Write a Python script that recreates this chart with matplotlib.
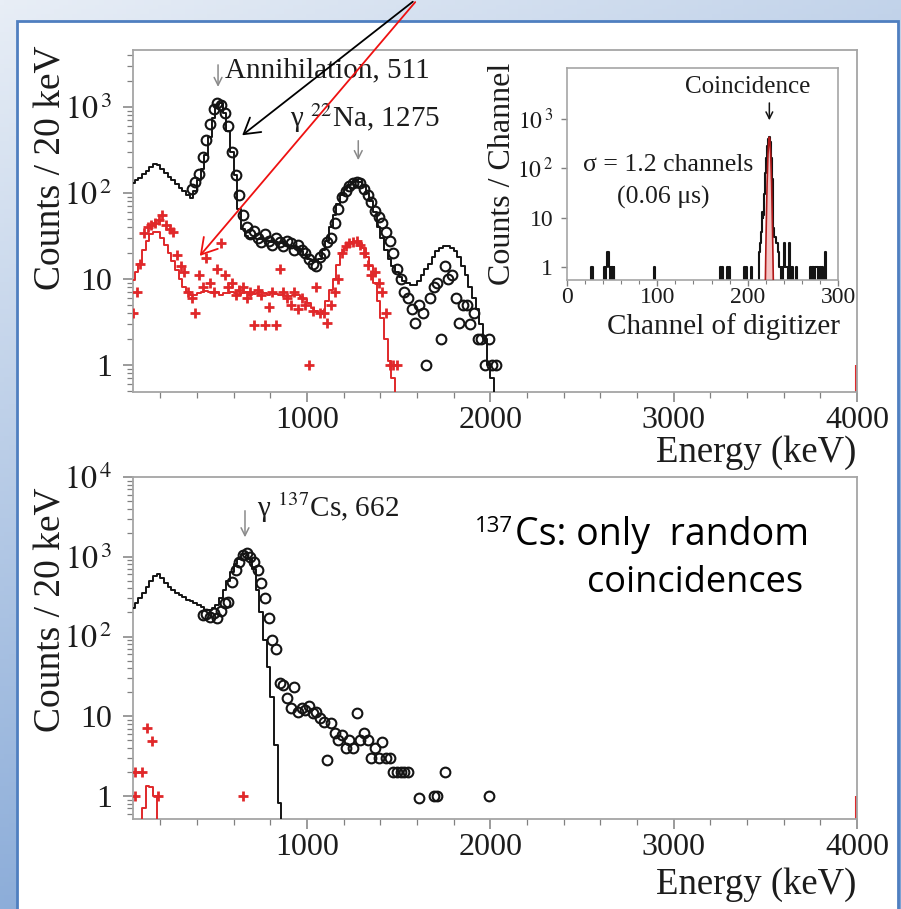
import numpy as np
import matplotlib.pyplot as plt
from matplotlib.patches import Rectangle, FancyArrowPatch
from matplotlib.ticker import MultipleLocator, FixedLocator, FixedFormatter, NullFormatter, LogLocator

plt.rcParams['font.family'] = 'Liberation Serif'
plt.rcParams['mathtext.fontset'] = 'stix'

W, H = 901, 909

# ---------------- top panel: 22Na, coincidence spectrum (keV, counts / 20 keV)
na_sim_E = [50, 70, 90, 110, 130, 150, 170, 190, 210, 230, 250, 270, 290, 310, 330, 350, 370, 390,
            410, 430, 450, 470, 490, 510, 530, 550, 570, 590, 610, 630, 650, 670, 690, 710, 730, 750,
            770, 790, 810, 830, 850, 870, 890, 910, 930, 950, 970, 990, 1010, 1030, 1050, 1070, 1090,
            1110, 1130, 1150, 1170, 1190, 1210, 1230, 1250, 1270, 1290, 1310, 1330, 1350, 1370, 1390,
            1410, 1430, 1450, 1470, 1490, 1510, 1530, 1550, 1570, 1590, 1610, 1630, 1650, 1670, 1690,
            1710, 1730, 1750, 1770, 1790, 1810, 1830, 1850, 1870, 1890, 1910, 1930, 1950, 1970, 1990,
            2010, 2030]
na_sim_v = [130, 140, 150, 165, 180, 200, 215, 210, 190, 170, 155, 140, 128, 115, 105, 95, 88, 105,
            140, 190, 275, 450, 750, 1050, 1100, 850, 520, 300, 160, 65, 38, 32, 30, 30, 29, 29,
            28, 28, 27, 27, 26, 26, 25, 24, 24, 23, 21, 19, 17, 16, 16, 17, 22,
            28, 40, 55, 75, 95, 110, 125, 135, 140, 135, 120, 100, 80, 60, 40,
            30, 22, 17, 14, 12, 10.5, 9.5, 9, 8.5, 8.5, 9.5, 11, 13, 15, 18,
            21, 23, 24, 24, 23, 21, 18, 14, 11, 8, 6, 4.5, 3, 2, 1,
            0.7, 0.01]

na_dat_E = [370, 390, 410, 430, 450, 470, 490, 510, 530, 550, 570, 590, 610, 630, 650, 670, 690, 710,
            730, 750, 770, 790, 810, 830, 850, 870, 890, 910, 930, 950, 970, 990, 1010, 1030, 1050,
            1070, 1090, 1110, 1130, 1150, 1170, 1190, 1210, 1230, 1250, 1270, 1290, 1310, 1330, 1350,
            1370, 1390, 1410, 1430, 1450, 1470, 1490, 1510, 1530, 1550, 1570, 1590, 1610, 1630, 1650,
            1670, 1690, 1710, 1730, 1750, 1770, 1790, 1810, 1830, 1850, 1870, 1890, 1910, 1930, 1950,
            1970, 1990, 2010, 2030]
na_dat_v = [110, 135, 165, 260, 410, 640, 940, 1100, 1050, 850, 600, 300, 160, 95, 55, 40, 33, 36,
            30, 27, 33, 28, 25, 30, 27, 24, 28, 26, 22, 25, 22, 20, 17, 15, 14,
            18, 20, 27, 30, 45, 65, 90, 105, 120, 130, 135, 130, 110, 95, 78,
            62, 52, 45, 35, 28, 20, 13, 10, 7, 6, 4.5, 3.1, 5, 4, 1,
            6, 8, 9, 2, 14, 10, 11, 6, 3.1, 5, 5, 3, 4, 2, 2,
            1, 2, 1, 1]

na_rnd_sim_E = [50, 70, 90, 110, 130, 150, 170, 190, 210, 230, 250, 270, 290, 310, 330, 350, 370, 390,
                410, 430, 450, 470, 490, 510, 530, 550, 570, 590, 610, 630, 650, 670, 690, 710, 730,
                750, 770, 790, 810, 830, 850, 870, 890, 910, 930, 950, 970, 990, 1010, 1030, 1050,
                1070, 1090, 1110, 1130, 1150, 1170, 1190, 1210, 1230, 1250, 1270, 1290, 1310, 1330,
                1350, 1370, 1390, 1410, 1430, 1450, 1470, 1490]
na_rnd_sim_v = [9.7, 12, 15, 22, 28, 33, 35, 35, 30, 25, 20, 16, 12.7, 10, 8.1, 7, 6.5, 6.5,
                6.8, 7, 7.2, 7, 6.8, 7, 6.6, 6.8, 6.9, 7, 6.8, 6.6, 6.9, 7, 6.5, 6.7, 6.8,
                7, 6.8, 6.5, 6.8, 6.7, 6.5, 6.6, 6.4, 6.3, 6.5, 6.6, 6.2, 5.8, 5.2, 4.6, 4.2,
                4, 4.3, 5.5, 7.4, 10, 14.5, 20, 23, 26, 27, 27, 26, 23, 18,
                14, 9, 5.5, 3.5, 2, 1.1, 0.7, 0.01]

na_rnd_dat_E = [50, 70, 90, 110, 130, 150, 170, 190, 210, 230, 250, 270, 290, 310, 330, 350, 370, 390,
                410, 430, 450, 470, 490, 510, 530, 550, 570, 590, 610, 630, 650, 670, 690, 710, 730,
                750, 770, 790, 810, 830, 850, 870, 890, 910, 930, 950, 970, 990, 1010, 1030, 1050,
                1070, 1090, 1110, 1130, 1150, 1170, 1190, 1210, 1230, 1250, 1270, 1290, 1310, 1330,
                1350, 1370, 1390, 1410, 1430, 1450, 1470, 1490]
na_rnd_dat_v = [4, 7, 15, 34, 40, 42, 45, 48, 55, 42, 38, 35, 19, 14, 12, 7, 6, 4,
                11, 8, 17.5, 9, 7, 13, 26, 11, 8, 9, 6.5, 7.4, 8, 6, 7, 2.9, 7.5,
                6.5, 2.9, 4.7, 7, 2.9, 13, 7, 6, 5, 7, 4.5, 6, 5, 1, 4.2, 8,
                4, 4, 3.1, 5, 7, 10, 20, 24, 26, 27, 28, 25, 20, 14.5,
                11, 12, 9, 7, 4, 1, 1, 1]
na_over_E = [3995]
na_over_v = [1]

# ---------------- bottom panel: 137Cs
cs_sim_E = [50, 70, 90, 110, 130, 150, 170, 190, 210, 230, 250, 270, 290, 310, 330, 350, 370, 390,
            410, 430, 450, 470, 490, 510, 530, 550, 570, 590, 610, 630, 650, 670, 690, 710, 730,
            750, 770, 790, 810, 830, 850, 870]
cs_sim_v = [228, 260, 300, 350, 420, 500, 580, 600, 540, 470, 420, 380, 355, 330, 310, 290, 275, 262,
            250, 235, 215, 215, 225, 250, 300, 380, 500, 650, 820, 950, 1080, 1100, 950, 700, 380,
            200, 90, 41, 17.6, 4.4, 0.82, 0.01]

cs_dat_E = [430, 450, 470, 490, 510, 530, 550, 570, 590, 610, 630, 650, 670, 690, 710, 730, 750, 770,
            790, 810, 830, 850, 870, 890, 910, 930, 950, 970, 990, 1010, 1030, 1050, 1070, 1090, 1110,
            1130, 1150, 1170, 1190, 1210, 1230, 1250, 1270, 1290, 1310, 1330, 1350, 1370, 1390, 1410,
            1430, 1450, 1470, 1490, 1510, 1530, 1550, 1610, 1690, 1710, 1750, 1990]
cs_dat_v = [185, 190, 175, 195, 170, 210, 260, 270, 480, 680, 860, 1050, 1100, 1000, 860, 680, 470, 305,
            170, 90, 70, 26, 25, 17, 12.7, 23, 11.3, 12.8, 12, 13.5, 11, 11.2, 9.5, 8.5, 2.8,
            8.2, 6.2, 5, 5.8, 4, 5, 4, 11, 5, 6.2, 5, 3, 4, 3, 4.8,
            3, 3, 2, 2, 2, 2, 2, 0.95, 1, 1, 2, 1]

cs_rnd_sim_E = [90, 110, 130, 150, 170, 190]
cs_rnd_sim_v = [0.01, 0.7, 1.35, 1.3, 1.0, 0.01]
cs_rnd_dat_E = [60, 60, 98, 126, 153, 186, 650]
cs_rnd_dat_v = [1, 2, 2, 7.1, 4.9, 1, 1]
cs_over_E = [3995]
cs_over_v = [1]

# ---------------- inset: timing spectrum (channel, counts)
ins_ch = [27, 28, 41, 42, 44, 45, 46, 47, 49, 50, 52, 97, 170, 172, 178, 180, 196, 199, 204,
          213, 214, 215, 216, 217, 218, 219, 220, 221, 222, 223, 224, 225, 226, 227, 228, 229, 230,
          231, 232, 233, 234, 235, 236, 238, 240, 241, 242, 243, 244, 246, 247, 250, 254,
          270, 272, 273, 275, 276, 277, 279, 281, 283, 286]
ins_cnt = [1, 1, 1, 1, 1, 2, 2, 1, 1, 1, 1, 1, 1, 1, 1, 1, 1, 1, 1,
           2, 3, 5, 13, 10, 11, 30, 80, 160, 280, 380, 420, 330, 160, 60, 14, 6, 4,
           4, 3, 3, 2, 1, 1, 1, 1, 3, 1, 1, 1, 3, 1, 1, 1,
           1, 1, 1, 1, 1, 1, 1, 1, 1, 2]
fit_ch = [219.5, 220.5, 221.5, 222.5, 223.5, 224, 224.5, 225.5, 226.5, 227.5, 228.5]
fit_cnt = [0.4, 6, 48, 190, 385, 420, 385, 190, 48, 6, 0.4]

BLACK = '#141414'
RED = '#e0282a'
GRID = '#a5a5a5'
TXT = '#1c1c1c'

fig = plt.figure(figsize=(W / 100, H / 100), dpi=100)

# slide background
bg = fig.add_axes([0, 0, 1, 1], zorder=-10)
gy, gx = np.mgrid[0:1:200j, 0:1:200j]
t = np.clip(0.35 * gx + 0.85 * gy, 0, 1)
light = np.array([232, 238, 246]) / 255
dark = np.array([125, 162, 212]) / 255
bg.imshow(light + (dark - light) * t[..., None], extent=[0, 1, 0, 1], origin='upper', aspect='auto')
bg.add_patch(Rectangle((17 / W, -0.05), (898 - 17) / W, (909 - 21) / H + 0.05,
                       transform=bg.transAxes, fc='white', ec='#4f7fc0', lw=2))
bg.set_xlim(0, 1)
bg.set_ylim(0, 1)
bg.axis('off')


def style_main(ax, ylim, yt, ylab):
    ax.set_yscale('log')
    ax.set_xlim(50, 4000)
    ax.set_ylim(*ylim)
    ax.xaxis.set_major_locator(FixedLocator([1000, 2000, 3000, 4000]))
    ax.xaxis.set_minor_locator(MultipleLocator(200))
    ax.yaxis.set_major_locator(FixedLocator(yt))
    ax.yaxis.set_major_formatter(FixedFormatter(ylab))
    ax.yaxis.set_minor_locator(LogLocator(base=10, subs=np.arange(2, 10)))
    ax.yaxis.set_minor_formatter(NullFormatter())
    for s in ax.spines.values():
        s.set_color(GRID)
        s.set_linewidth(1.3)
    ax.tick_params(which='both', direction='out', color='#808080', labelcolor=TXT)
    ax.tick_params(which='major', length=7, width=1.1, labelsize=23, pad=3)
    ax.tick_params(which='minor', length=4, width=0.9)
    ax.tick_params(axis='y', which='major', pad=8)


# top panel
ax1 = fig.add_axes([133 / W, 1 - 392 / H, (857 - 133) / W, (392 - 50) / H])
ax1.step(na_sim_E, na_sim_v, where='mid', color=BLACK, lw=1.4, zorder=3)
ax1.step(na_rnd_sim_E, na_rnd_sim_v, where='mid', color=RED, lw=1.4, zorder=3)
ax1.plot(na_dat_E, na_dat_v, 'o', mfc='none', mec=BLACK, ms=7, mew=1.5, zorder=4)
ax1.plot(na_rnd_dat_E, na_rnd_dat_v, '+', color=RED, ms=7.5, mew=2, zorder=4)
ax1.vlines(na_over_E, 0.3, na_over_v, color=RED, lw=1.5)
style_main(ax1, (0.486, 4600), [1, 10, 100, 1000], ['1', '10', r'$10^{\,2}$', r'$10^{\,3}$'])
ax1.annotate('', xy=(514, 1590), xytext=(514, 3330),
             arrowprops=dict(arrowstyle='->', color='#8a8a8a', lw=1.1, mutation_scale=14))
ax1.text(552, 2700, 'Annihilation, 511', fontsize=21, color=TXT, va='center', ha='left')
ax1.annotate('', xy=(1279, 224), xytext=(1279, 437),
             arrowprops=dict(arrowstyle='->', color='#8a8a8a', lw=1.1, mutation_scale=14))
ax1.text(907, 745, r'γ $^{22}$Na, 1275', fontsize=21, color=TXT, va='center', ha='left')

# bottom panel
ax2 = fig.add_axes([133 / W, 1 - 819 / H, (857 - 133) / W, (819 - 477) / H])
ax2.step(cs_sim_E, cs_sim_v, where='mid', color=BLACK, lw=1.4, zorder=3)
ax2.step(cs_rnd_sim_E, cs_rnd_sim_v, where='mid', color=RED, lw=1.4, zorder=3)
ax2.plot(cs_dat_E, cs_dat_v, 'o', mfc='none', mec=BLACK, ms=7, mew=1.5, zorder=4)
ax2.plot(cs_rnd_dat_E, cs_rnd_dat_v, '+', color=RED, ms=7.5, mew=2, zorder=4)
ax2.vlines(cs_over_E, 0.3, cs_over_v, color=RED, lw=1.5)
style_main(ax2, (0.515, 10000), [1, 10, 100, 1000, 10000],
           ['1', '10', r'$10^{\,2}$', r'$10^{\,3}$', r'$10^{\,4}$'])
ax2.annotate('', xy=(661, 1620), xytext=(661, 4090),
             arrowprops=dict(arrowstyle='->', color='#8a8a8a', lw=1.1, mutation_scale=14))
ax2.text(727, 4090, r'γ $^{137}$Cs, 662', fontsize=21, color=TXT, va='center', ha='left')

# inset
ax3 = fig.add_axes([567 / W, 1 - 280 / H, (838 - 567) / W, (280 - 68) / H])
ax3.set_facecolor('white')
full = np.zeros(301)
full[ins_ch] = ins_cnt
ax3.fill_between(fit_ch, fit_cnt, 0.3, color='#f6c4c4', lw=0, zorder=1)
ax3.step(np.arange(301), full, where='mid', color=BLACK, lw=1.5, zorder=2)
ax3.plot(fit_ch, fit_cnt, color='#b01818', lw=1.2, zorder=3)
ax3.set_yscale('log')
ax3.set_xlim(0, 300)
ax3.set_ylim(0.546, 10500)
ax3.xaxis.set_major_locator(MultipleLocator(100))
ax3.xaxis.set_minor_locator(MultipleLocator(20))
ax3.yaxis.set_major_locator(FixedLocator([1, 10, 100, 1000]))
ax3.yaxis.set_major_formatter(FixedFormatter(['1', '10', r'$10^{\,2}$', r'$10^{\,3}$']))
ax3.yaxis.set_minor_locator(LogLocator(base=10, subs=np.arange(2, 10)))
ax3.yaxis.set_minor_formatter(NullFormatter())
for s in ax3.spines.values():
    s.set_color(GRID)
    s.set_linewidth(1.2)
ax3.tick_params(which='both', direction='out', color='#808080', labelcolor=TXT)
ax3.tick_params(which='major', length=4, width=1, labelsize=17, pad=1)
ax3.tick_params(which='minor', length=3, width=0.8)
ax3.tick_params(axis='y', which='major', pad=6)
ax3.set_ylabel('Counts / Channel', fontsize=23, color=TXT, labelpad=0)
ax3.annotate('', xy=(224, 810), xytext=(224, 2350),
             arrowprops=dict(arrowstyle='->', color=BLACK, lw=1.1, mutation_scale=12))
ax3.text(200, 4350, 'Coincidence', fontsize=18, color=TXT, ha='center', va='center')
ax3.text(112, 115, 'σ = 1.2 channels', fontsize=18.5, color=TXT, ha='center', va='center')
ax3.text(107, 26, '(0.06 μs)', fontsize=18.5, color=TXT, ha='center', va='center')
fig.text(723 / W, 1 - 327 / H, 'Channel of digitizer', fontsize=21, color=TXT,
         ha='center', va='center')

# axis labels
fig.text(51 / W, 1 - 168 / H, 'Counts / 20 keV', rotation=90, fontsize=27, color=TXT,
         ha='center', va='center')
fig.text(51 / W, 1 - 610 / H, 'Counts / 20 keV', rotation=90, fontsize=27, color=TXT,
         ha='center', va='center')
fig.text(856 / W, 1 - 453 / H, 'Energy (keV)', fontsize=26.5, color=TXT, ha='right', va='center')
fig.text(856 / W, 1 - 885 / H, 'Energy (keV)', fontsize=26.5, color=TXT, ha='right', va='center')

# slide annotation
fig.text(475 / W, 1 - 527 / H, '137', fontsize=16, family='Open Sans', color='black',
         ha='left', va='center')
fig.text(515 / W, 1 - 535 / H, 'Cs: only  random', fontsize=27, family='Open Sans',
         color='black', ha='left', va='center')
fig.text(587 / W, 1 - 583 / H, 'coincidences', fontsize=26, family='Open Sans',
         color='black', ha='left', va='center')

# pointer arrows from the slide title
fig.add_artist(FancyArrowPatch((415 / W, 1.0), (240 / W, 1 - 137 / H), transform=fig.transFigure,
                               arrowstyle='->,head_length=0.5,head_width=0.3', mutation_scale=22,
                               color='black', lw=1.3))
fig.add_artist(FancyArrowPatch((417 / W, 1.0), (198 / W, 1 - 258 / H), transform=fig.transFigure,
                               arrowstyle='->,head_length=0.5,head_width=0.3', mutation_scale=22,
                               color='#ee1111', lw=1.3))

fig.savefig('out.png', dpi=100)
